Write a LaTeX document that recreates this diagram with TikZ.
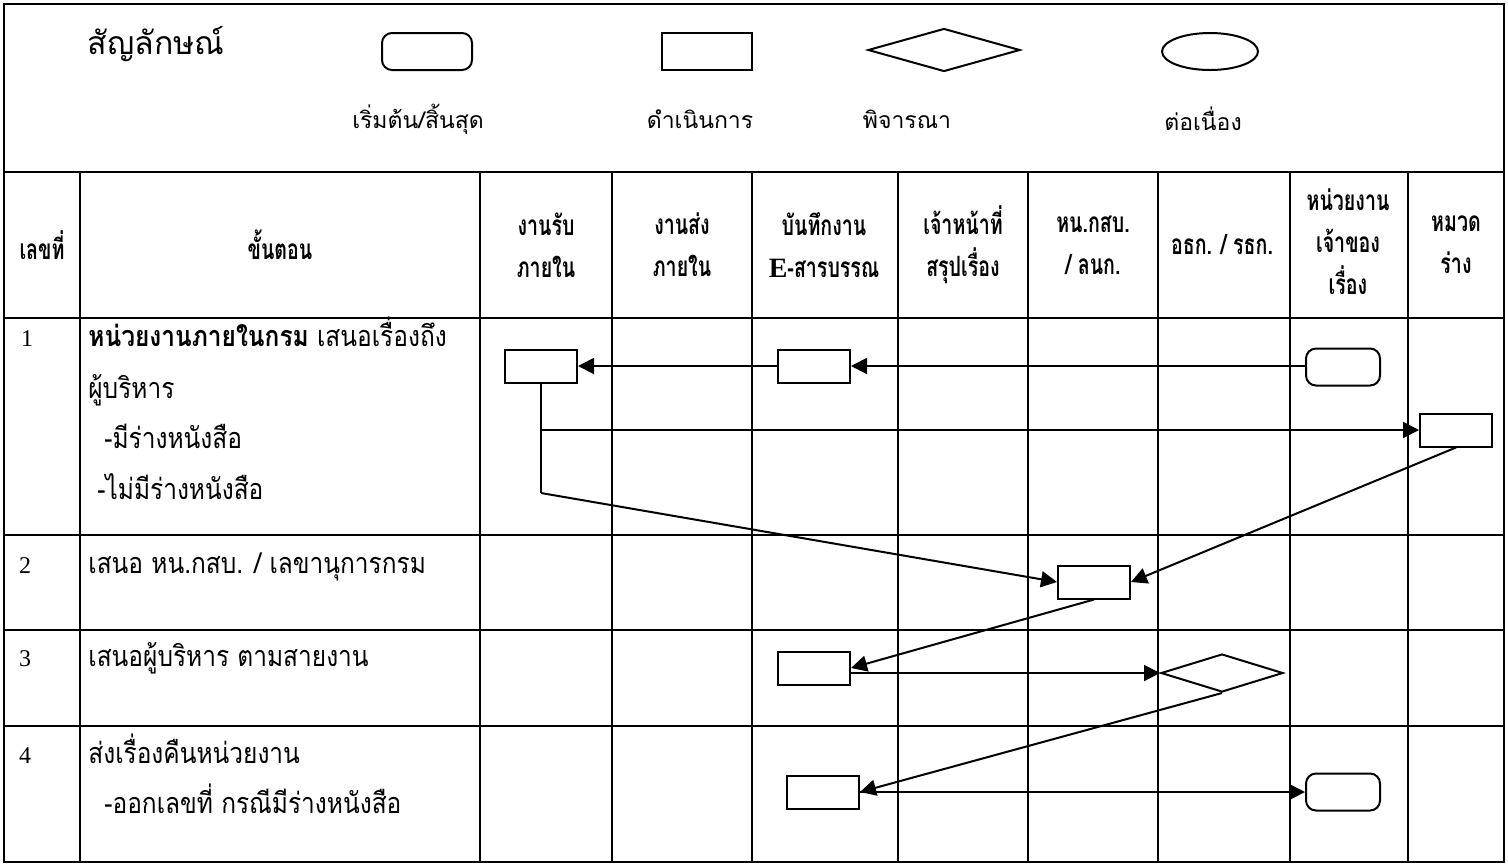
\documentclass[tikz,border=0pt]{standalone}
\usepackage{fontspec}
\setmainfont{Liberation Serif}
\newfontfamily\thfont[Script=Thai]{Loma}
\newfontfamily\thcond[Script=Thai,FakeStretch=0.7]{Loma}
\newfontfamily\thbody[Script=Thai,FakeStretch=0.85]{Loma}
\usetikzlibrary{shapes.geometric,arrows.meta}

\tikzset{
  grid/.style={line width=1.3pt},
  box/.style={draw,line width=1pt,minimum width=36pt,minimum height=16.5pt,inner sep=0pt},
  term/.style={box,rounded corners=5pt,minimum width=37pt,minimum height=18.5pt},
  decide/.style={draw,diamond,line width=1pt,inner sep=0pt,minimum width=61pt,minimum height=19pt},
  conn/.style={line width=1pt},
  flow/.style={conn,-{Triangle[length=8pt,width=8pt]}},
  hdr/.style={font=\thcond\bfseries\fontsize{14}{21}\selectfont,align=center,inner sep=0pt},
  legendtxt/.style={font=\thfont\fontsize{11.5}{14}\selectfont,inner sep=0pt},
  body/.style={font=\thbody\fontsize{14.4}{16}\selectfont,anchor=base west,inner sep=0pt},
  num/.style={font=\fontsize{12}{14}\selectfont,anchor=base,inner sep=0pt},
}

\begin{document}
\begin{tikzpicture}[x=0.5pt,y=-0.5pt]
\useasboundingbox (0,0) rectangle (1508,864);

% table frame and rules
\draw[grid] (4,4) rectangle (1504,862);
\foreach \y in {172,318,535,630,726} \draw[grid] (4,\y) -- (1504,\y);
\foreach \x in {80,480,612,752,898,1028,1158,1290,1408} \draw[grid] (\x,172) -- (\x,862);

% legend
\node[font=\thfont\fontsize{16}{19}\selectfont,inner sep=0pt] (legtitle) at (156,44) {สัญลักษณ์};
\node[draw,line width=1pt,rounded corners=5pt,minimum width=45pt,minimum height=18.5pt,inner sep=0pt] (lgterm) at (427,51.5) {};
\node[draw,line width=1pt,minimum width=45pt,minimum height=18.5pt,inner sep=0pt] (lgproc) at (707,51.5) {};
\node[draw,diamond,line width=1pt,minimum width=76pt,minimum height=21.5pt,inner sep=0pt] (lgdec) at (944,50) {};
\node[draw,ellipse,line width=1pt,minimum width=48pt,minimum height=18.5pt,inner sep=0pt] (lgcont) at (1210,51.5) {};
\node[legendtxt] (lgtermtxt) at (418,119) {เริ่มต้น/สิ้นสุด};
\node[legendtxt] (lgproctxt) at (700,119) {ดำเนินการ};
\node[legendtxt] (lgdectxt) at (907,119) {พิจารณา};
\node[legendtxt] (lgconttxt) at (1203,119) {ต่อเนื่อง};

% column headings
\node[hdr] (h1) at (42,245) {เลขที่};
\node[hdr] (h2) at (280,245) {ขั้นตอน};
\node[hdr] (h3) at (546,245) {งานรับ\\ภายใน};
\node[hdr] (h4) at (682,245) {งานส่ง\\ภายใน};
\node[hdr] (h5) at (824,245) {บันทึกงาน\\{\setmainfont{Liberation Serif}\bfseries E}-สารบรรณ};
\node[hdr] (h6) at (963,245) {เจ้าหน้าที่\\สรุปเรื่อง};
\node[hdr] (h7) at (1093,245) {หน.กสบ.\\/ ลนก.};
\node[hdr] (h8) at (1222,245) {อธก. / รธก.};
\node[hdr] (h9) at (1348,242) {หน่วยงาน\\เจ้าของ\\เรื่อง};
\node[hdr] (h10) at (1456,245) {หมวด\\ร่าง};

% step descriptions
\node[num] (n1) at (27,346) {1};
\node[body] (t1a) at (88,346) {{\bfseries หน่วยงานภายในกรม} เสนอเรื่องถึง};
\node[body] (t1b) at (88,398) {ผู้บริหาร};
\node[body] (t1c) at (104,448) {-มีร่างหนังสือ};
\node[body] (t1d) at (97,499) {-ไม่มีร่างหนังสือ};
\node[num] (n2) at (25,573) {2};
\node[body] (t2) at (88,573) {เสนอ หน.กสบ. / เลขานุการกรม};
\node[num] (n3) at (25,666) {3};
\node[body] (t3) at (88,666) {เสนอผู้บริหาร ตามสายงาน};
\node[num] (n4) at (25,763) {4};
\node[body] (t4a) at (88,763) {ส่งเรื่องคืนหน่วยงาน};
\node[body] (t4b) at (104,813) {-ออกเลขที่ กรณีมีร่างหนังสือ};

% flow symbols
\node[box] (rcv) at (541,366) {};
\node[box] (esb1) at (814,366) {};
\node[term] (start) at (1343,367) {};
\node[box] (draft) at (1456,430) {};
\node[box] (chief) at (1094,582) {};
\node[box] (esb2) at (814,668) {};
\node[decide] (exec) at (1222,673) {};
\node[box] (esb3) at (823,792) {};
\node[term] (finish) at (1343,792) {};

\coordinate (split) at (rcv.south |- draft.west);
\coordinate (bend) at (rcv.south |- 0,493);

% connectors
\draw[flow] (start.west |- esb1.east) -- (esb1.east);
\draw[flow] (esb1.west) -- (rcv.east);
\draw[conn] (rcv.south) -- (bend);
\draw[flow] (split) -- (draft.west);
\draw[flow] (bend) -- (chief.west);
\draw[flow] (draft.south) -- (chief.east);
\draw[flow] (chief.south) -- (esb2.east);
\draw[flow] (esb2.east |- exec.west) -- (exec.west);
\draw[flow] (exec.south) -- (esb3.east);
\draw[flow] (esb3.east) -- (finish.west);
\end{tikzpicture}
\end{document}
